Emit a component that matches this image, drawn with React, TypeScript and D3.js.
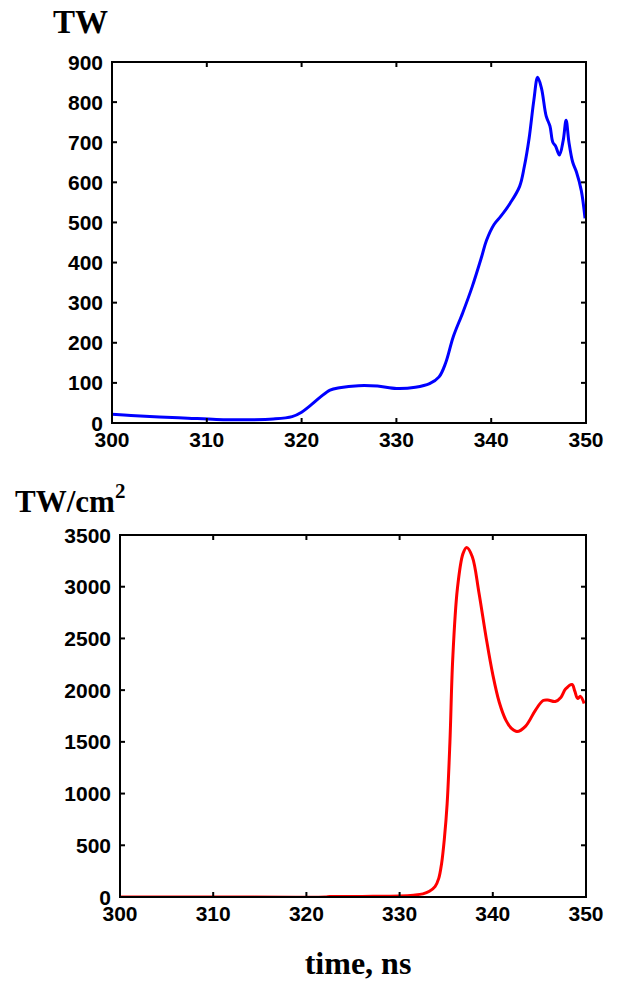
import React from "react";
import * as d3 from "d3";

// power (TW) vs time (ns)
const powerTime = [300, 302, 305, 308, 311, 314, 317, 319, 320, 321, 322, 323, 324, 326, 328, 330, 332, 333.5, 334.5, 335.2, 336, 337, 338, 339, 339.5, 340.3, 341, 342, 343, 343.5, 344, 344.5, 344.9, 345.3, 345.8, 346.2, 346.5, 346.8, 347.2, 347.6, 347.9, 348.2, 348.6, 349, 349.5, 349.9];
const powerValues = [22, 19, 15, 12, 9, 8, 10, 16, 27, 45, 65, 82, 88, 93, 92, 86, 89, 98, 115, 150, 215, 275, 340, 415, 455, 495, 515, 548, 590, 640, 710, 805, 862, 835, 765, 740, 700, 690, 668, 705, 755, 700, 650, 625, 580, 510];

// intensity (TW/cm^2) vs time (ns)
const intensityTime = [300, 310, 322, 322.5, 326, 330, 331.5, 332.5, 333.2, 333.8, 334.2, 334.5, 334.8, 335.1, 335.4, 335.7, 336.2, 336.8, 337.2, 337.8, 338.5, 339.3, 340, 340.7, 341.4, 342, 342.6, 343.5, 344.6, 345.4, 345.9, 346.7, 347.3, 347.8, 348.5, 348.8, 349.1, 349.4, 349.8];
const intensityValues = [0, 0, 0, 4, 6, 10, 18, 30, 55, 100, 180, 320, 560, 900, 1500, 2300, 2980, 3320, 3380, 3290, 2950, 2500, 2150, 1880, 1710, 1630, 1600, 1650, 1810, 1900, 1905, 1890, 1930, 2010, 2055, 1990, 1920, 1940, 1870];

const xTicks = [300, 310, 320, 330, 340, 350];
const powerTicks = [0, 100, 200, 300, 400, 500, 600, 700, 800, 900];
const intensityTicks = [0, 500, 1000, 1500, 2000, 2500, 3000, 3500];

type PanelProps = {
  left: number;
  right: number;
  top: number;
  bottom: number;
  t: number[];
  v: number[];
  yMax: number;
  yTicks: number[];
  color: string;
};

const Panel = ({ left, right, top, bottom, t, v, yMax, yTicks, color }: PanelProps) => {
  const x = d3.scaleLinear().domain([300, 350]).range([left, right]);
  const y = d3.scaleLinear().domain([0, yMax]).range([bottom, top]);
  const pts: [number, number][] = t.map((d, i) => [d, v[i]]);
  const line = d3
    .line<[number, number]>()
    .x((d) => x(d[0]))
    .y((d) => y(Math.max(0, d[1])))
    .curve(d3.curveCatmullRom.alpha(0.5));
  const tick = 5;
  const font = "'Liberation Sans', Arial, sans-serif";

  return (
    <g>
      <defs>
        <clipPath id={`clip-${color}`}>
          <rect x={left} y={top - 2} width={right - left} height={bottom - top + 2} />
        </clipPath>
      </defs>
      <path d={line(pts) || ""} fill="none" stroke={color} strokeWidth={3} strokeLinejoin="round" clipPath={`url(#clip-${color})`} />
      <rect x={left} y={top} width={right - left} height={bottom - top} fill="none" stroke="#000" strokeWidth={2} />
      {xTicks.map((d) => (
        <g key={"x" + d}>
          <line x1={x(d)} x2={x(d)} y1={bottom} y2={bottom - tick} stroke="#000" strokeWidth={2} />
          <line x1={x(d)} x2={x(d)} y1={top} y2={top + tick} stroke="#000" strokeWidth={2} />
          <text x={x(d)} y={bottom + 24} textAnchor="middle" fontFamily={font} fontWeight="bold" fontSize={21} fill="#000">
            {d}
          </text>
        </g>
      ))}
      {yTicks.map((d) => (
        <g key={"y" + d}>
          <line x1={left} x2={left + tick} y1={y(d)} y2={y(d)} stroke="#000" strokeWidth={2} />
          <line x1={right} x2={right - tick} y1={y(d)} y2={y(d)} stroke="#000" strokeWidth={2} />
          <text x={left - 9} y={y(d)} dy="0.36em" textAnchor="end" fontFamily={font} fontWeight="bold" fontSize={21} fill="#000">
            {d}
          </text>
        </g>
      ))}
    </g>
  );
};

export default function App() {
  const serif = "'Liberation Serif', 'Times New Roman', serif";
  return (
    <svg width={617} height={982} style={{ position: "absolute", left: 0, top: 0, background: "#fff" }}>
      <rect width={617} height={982} fill="#fff" />
      <text x={53} y={33} fontFamily={serif} fontWeight="bold" fontSize={33}>
        TW
      </text>
      <Panel left={112} right={586} top={62} bottom={423} t={powerTime} v={powerValues} yMax={900} yTicks={powerTicks} color="#0000ff" />

      <text x={15} y={512} fontFamily={serif} fontWeight="bold" fontSize={31}>
        TW/cm
        <tspan fontSize={21} dy={-14}>
          2
        </tspan>
      </text>
      <Panel left={120} right={586} top={535} bottom={897} t={intensityTime} v={intensityValues} yMax={3500} yTicks={intensityTicks} color="#ff0000" />

      <text x={358} y={974} textAnchor="middle" fontFamily={serif} fontWeight="bold" fontSize={32}>
        time, ns
      </text>
    </svg>
  );
}
